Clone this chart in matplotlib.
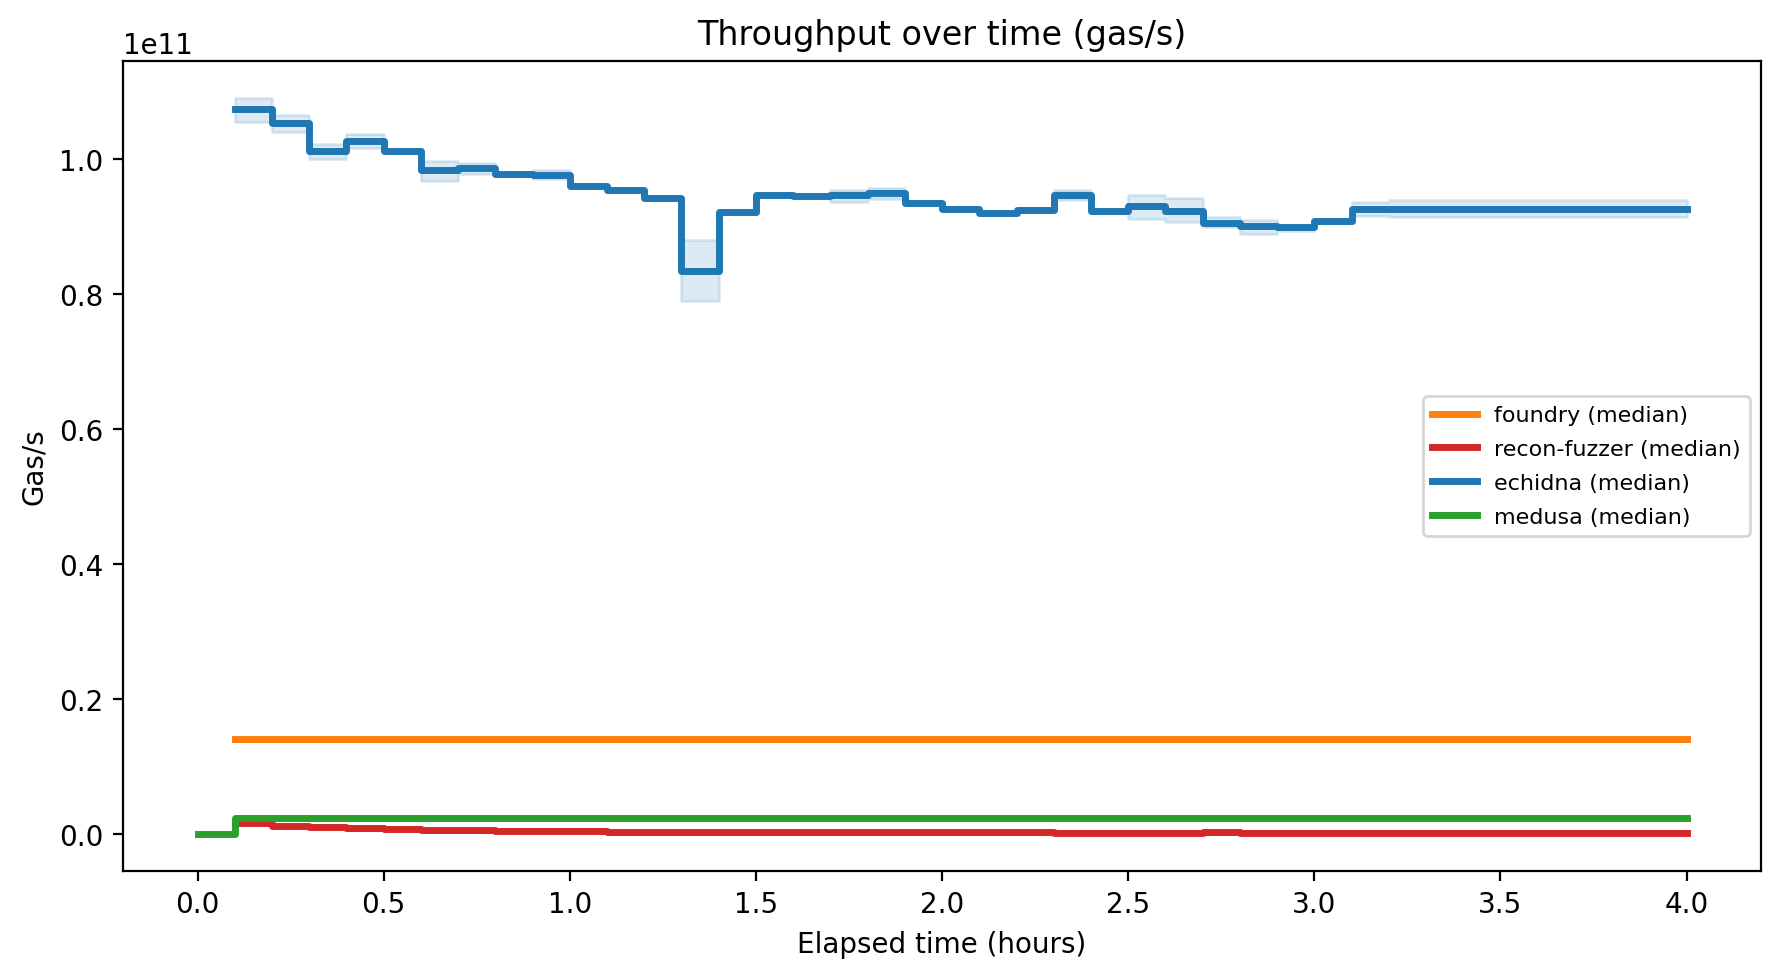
import matplotlib
matplotlib.use("Agg")
import matplotlib.pyplot as plt


# elapsed time in hours, one sample every 6 minutes
hours = [
    0.1, 0.2, 0.3, 0.4, 0.5, 0.6, 0.7, 0.8, 0.9, 1.0,
    1.1, 1.2, 1.3, 1.4, 1.5, 1.6, 1.7, 1.8, 1.9, 2.0,
    2.1, 2.2, 2.3, 2.4, 2.5, 2.6, 2.7, 2.8, 2.9, 3.0,
    3.1, 3.2, 3.3, 3.4, 3.5, 3.6, 3.7, 3.8, 3.9, 4.0,
]

# gas/s in units of 1e11
echidna_med = [
    1.074, 1.053, 1.012, 1.027, 1.012, 0.984, 0.987, 0.978, 0.976, 0.960,
    0.954, 0.943, 0.835, 0.922, 0.947, 0.945, 0.947, 0.950, 0.935, 0.926,
    0.920, 0.925, 0.947, 0.924, 0.930, 0.924, 0.906, 0.901, 0.899, 0.908,
    0.927, 0.927, 0.927, 0.927, 0.927, 0.927, 0.927, 0.927, 0.927, 0.927,
]
echidna_lo = [
    1.055, 1.040, 1.000, 1.016, 1.010, 0.968, 0.978, 0.976, 0.970, 0.958,
    0.952, 0.941, 0.790, 0.920, 0.945, 0.943, 0.937, 0.941, 0.933, 0.924,
    0.918, 0.923, 0.940, 0.922, 0.911, 0.907, 0.899, 0.889, 0.893, 0.906,
    0.916, 0.915, 0.915, 0.915, 0.915, 0.915, 0.915, 0.915, 0.915, 0.915,
]
echidna_hi = [
    1.091, 1.066, 1.022, 1.037, 1.014, 0.998, 0.995, 0.980, 0.984, 0.962,
    0.956, 0.945, 0.881, 0.924, 0.949, 0.947, 0.955, 0.958, 0.937, 0.928,
    0.922, 0.927, 0.954, 0.926, 0.947, 0.942, 0.915, 0.910, 0.903, 0.910,
    0.937, 0.940, 0.940, 0.940, 0.940, 0.940, 0.940, 0.940, 0.940, 0.940,
]

foundry_med = [0.141] * 40

recon_med = [
    0.0169, 0.0120, 0.0104, 0.0089, 0.0080, 0.0065, 0.0065, 0.0050, 0.0050, 0.0050,
    0.0036, 0.0036, 0.0036, 0.0036, 0.0036, 0.0036, 0.0036, 0.0036, 0.0036, 0.0036,
    0.0036, 0.0036, 0.0020, 0.0020, 0.0020, 0.0020, 0.0036, 0.0020, 0.0020, 0.0020,
    0.0020, 0.0020, 0.0020, 0.0020, 0.0020, 0.0020, 0.0020, 0.0020, 0.0020, 0.0020,
]

medusa_hours = [0.0] + hours
medusa_med = [0.0] + [0.0243] * 40

SCALE = 1e11


def graph() -> None:

    fig, ax = plt.subplots(figsize=(1781 / 200, 978 / 200), dpi=200)

    plt.subplots_adjust(
        left=0.0691,
        right=0.9888,
        top=0.9366,
        bottom=0.1084
    )

    ax.step(
        hours,
        [v * SCALE for v in foundry_med],
        where="post",
        color="tab:orange",
        linewidth=2.5,
        label="foundry (median)"
    )

    ax.step(
        hours,
        [v * SCALE for v in recon_med],
        where="post",
        color="tab:red",
        linewidth=2.5,
        label="recon-fuzzer (median)"
    )

    ax.fill_between(
        hours,
        [v * SCALE for v in echidna_lo],
        [v * SCALE for v in echidna_hi],
        step="post",
        color="tab:blue",
        alpha=0.15
    )

    ax.step(
        hours,
        [v * SCALE for v in echidna_med],
        where="post",
        color="tab:blue",
        linewidth=2.5,
        label="echidna (median)"
    )

    ax.step(
        medusa_hours,
        [v * SCALE for v in medusa_med],
        where="post",
        color="tab:green",
        linewidth=2.5,
        label="medusa (median)"
    )

    ax.set_title("Throughput over time (gas/s)")
    ax.set_xlabel("Elapsed time (hours)")
    ax.set_ylabel("Gas/s")

    ax.legend(
        loc="center right",
        fontsize=8,
        labelspacing=0.62
    )

    fig.savefig("out.png", dpi=200)


if __name__ == "__main__":
    graph()
